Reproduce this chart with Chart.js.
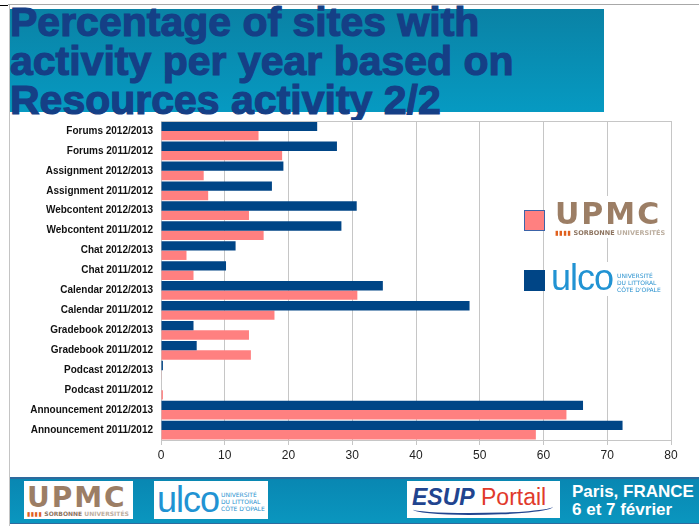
<!DOCTYPE html>
<html>
<head>
<meta charset="utf-8">
<style>
  body { margin: 0; width: 699px; height: 526px; background: #fff; position: relative; overflow: hidden; font-family: "Liberation Sans", Arial, sans-serif; }
  .abs { position: absolute; }
  #topline { left: 8px; top: 4px; width: 691px; height: 1px; background: #a8a8a8; }
  #topmark { left: 0; top: 5px; width: 8px; height: 1px; background: #000; }
  #leftline { left: 9px; top: 5px; width: 1px; height: 521px; background: #c4c4c4; }
  #banner { left: 10px; top: 9px; width: 594px; height: 103px; background: linear-gradient(#0a82a5, #069ac2); }
  .title { left: 10px; font-weight: bold; font-size: 41px; color: #153f86; -webkit-text-stroke: 1.2px #153f86; white-space: nowrap; line-height: 1; }
  #chartbox { left: 10px; top: 120px; width: 680px; height: 352px; }
  .sq { width: 19px; height: 19px; border: 1px solid #3c63a8; }
  .logo { background: #fff; }
  .upmc { color: #9c7e65; font-family: "DejaVu Sans", sans-serif; font-weight: bold; letter-spacing: 2px; line-height: 1; }
  .sorb { font-family: "DejaVu Sans", sans-serif; font-weight: bold; white-space: nowrap; line-height: 1; color: #8e7561; }
  .sorb b { color: #e0601e; letter-spacing: 0.5px; }
  .sorb span { color: #bcae9f; }
  .ulco { color: #2193d3; font-family: "Liberation Sans", sans-serif; letter-spacing: -1px; line-height: 1; }
  .univ { color: #2a92cf; font-family: "DejaVu Sans", sans-serif; white-space: nowrap; }
  #footer { left: 10px; top: 477px; width: 689px; height: 44px; background: linear-gradient(#0987b2, #0a96bf); border-top: 2px solid #2d6a9e; border-bottom: 1px solid #2d6a9e; }
  .place { color: #fff; font-weight: bold; font-size: 17px; white-space: nowrap; }
</style>
</head>
<body>
<div class="abs" id="topmark"></div>
<div class="abs" id="topline"></div>
<div class="abs" id="leftline"></div>
<div class="abs" id="banner"></div>
<div class="abs title" style="top:2px">Percentage of sites with</div>
<div class="abs title" style="top:41px">activity per year based on</div>
<div class="abs title" style="top:80px">Resources activity 2/2</div>

<div class="abs" id="chartbox"><canvas id="myChart" width="680" height="352"></canvas></div>

<!-- legend: UPMC -->
<div class="abs sq" style="left:524px; top:210px; background:#ff8080"></div>
<div class="abs logo" style="left:553px; top:196px; width:110px; height:42px">
  <div class="abs upmc" style="left:2px; top:3px; font-size:30px">UPMC</div>
  <div class="abs sorb" style="left:2px; top:34px; font-size:6.5px"><b>▮▮▮▮</b> SORBONNE <span>UNIVERSITÉS</span></div>
</div>
<!-- legend: ULCO -->
<div class="abs sq" style="left:524px; top:270px; background:#004586; border-color:#004586"></div>
<div class="abs logo" style="left:550px; top:262px; width:112px; height:34px">
  <div class="abs ulco" style="left:1px; top:-2px; font-size:36px">ulco</div>
  <div class="abs univ" style="left:67px; top:10px; font-size:6px; line-height:7px">UNIVERSITÉ<br>DU LITTORAL<br>CÔTE D'OPALE</div>
</div>

<!-- footer -->
<div class="abs" id="footer"></div>
<div class="abs logo" style="left:24px; top:481px; width:109px; height:38px">
  <div class="abs upmc" style="left:3px; top:3px; font-size:28px">UPMC</div>
  <div class="abs sorb" style="left:3px; top:30px; font-size:6px"><b>▮▮▮▮</b> SORBONNE <span>UNIVERSITÉS</span></div>
</div>
<div class="abs logo" style="left:154px; top:481px; width:114px; height:38px">
  <div class="abs ulco" style="left:3px; top:1px; font-size:36px">ulco</div>
  <div class="abs univ" style="left:67px; top:10px; font-size:6px; line-height:7px">UNIVERSITÉ<br>DU LITTORAL<br>CÔTE D'OPALE</div>
</div>
<div class="abs logo" style="left:407px; top:481px; width:153px; height:37px">
  <div class="abs" style="left:5px; top:5px; white-space:nowrap; font-size:23px; line-height:1">
    <span style="color:#21448f; font-weight:bold; font-style:italic">ESUP</span><span style="color:#e13a2b"> Portail</span>
  </div>
  <div class="abs" style="left:6px; top:20px; width:140px; height:12px; border-bottom:2px solid #21448f; border-radius:0 0 60% 40%"></div>
</div>
<div class="abs place" style="left:572px; top:482px">Paris, FRANCE</div>
<div class="abs place" style="left:572px; top:500px">6 et 7 février</div>

<script src="https://cdn.jsdelivr.net/npm/chart.js@4/dist/chart.umd.min.js"></script>
<script>
var categories = [
    'Forums 2012/2013', 'Forums 2011/2012',
    'Assignment 2012/2013', 'Assignment 2011/2012',
    'Webcontent 2012/2013', 'Webcontent 2011/2012',
    'Chat 2012/2013', 'Chat 2011/2012',
    'Calendar 2012/2013', 'Calendar 2011/2012',
    'Gradebook 2012/2013', 'Gradebook 2011/2012',
    'Podcast 2012/2013', 'Podcast 2011/2012',
    'Announcement 2012/2013', 'Announcement 2011/2012'
];
var ulcoValues = [24.5, 27.6, 19.2, 17.4, 30.7, 28.3, 11.7, 10.2, 34.8, 48.4, 5.1, 5.6, 0.3, 0, 66.2, 72.4];
var upmcValues = [15.3, 19.0, 6.7, 7.4, 13.8, 16.1, 4.0, 5.1, 30.8, 17.8, 13.8, 14.1, 0.1, 0.3, 63.6, 58.8];
var xMin = 0, xMax = 80, xStep = 10;

// white page behind the plot, plus the top edge of the frame
var frame = {
    id: 'frame',
    beforeDraw: function (chart) {
        var ctx = chart.ctx;
        ctx.save();
        ctx.fillStyle = '#fff';
        ctx.fillRect(0, 0, chart.width, chart.height);
        ctx.restore();
    },
    afterDraw: function (chart) {
        var a = chart.chartArea, ctx = chart.ctx;
        ctx.save();
        ctx.strokeStyle = '#c6c6c6';
        ctx.lineWidth = 1;
        ctx.beginPath();
        ctx.moveTo(a.left, a.top + 0.5);
        ctx.lineTo(a.right + 0.5, a.top + 0.5);
        ctx.stroke();
        ctx.restore();
    }
};

var ctx = document.getElementById('myChart').getContext('2d');
var chart = new Chart(ctx, {
    type: 'bar',
    data: {
        labels: categories,
        datasets: [
            { label: 'ULCO', data: ulcoValues, backgroundColor: '#004586' },
            { label: 'UPMC', data: upmcValues, backgroundColor: '#ff8080' }
        ]
    },
    options: {
        indexAxis: 'y',
        responsive: false,
        animation: false,
        categoryPercentage: 0.94,
        barPercentage: 1.0,
        layout: { padding: { top: 1, right: 19, bottom: 0, left: 0 } },
        plugins: { legend: { display: false }, tooltip: { enabled: false } },
        scales: {
            x: {
                min: xMin, max: xMax,
                ticks: { stepSize: xStep, color: '#222', padding: 3, font: { family: 'Liberation Sans', size: 12 } },
                grid: { color: '#c6c6c6', tickLength: 5 },
                border: { color: '#c6c6c6' },
                afterFit: function (s) { s.height = 32; }
            },
            y: {
                ticks: { color: '#111', padding: 8, autoSkip: false, font: { family: 'Liberation Sans', size: 10, weight: 'bold' } },
                grid: { display: false, drawTicks: false },
                border: { display: false },
                afterFit: function (s) { s.width = 151; s.paddingTop = 0; s.paddingBottom = 0; }
            }
        }
    },
    plugins: [frame]
});
</script>
</body>
</html>
